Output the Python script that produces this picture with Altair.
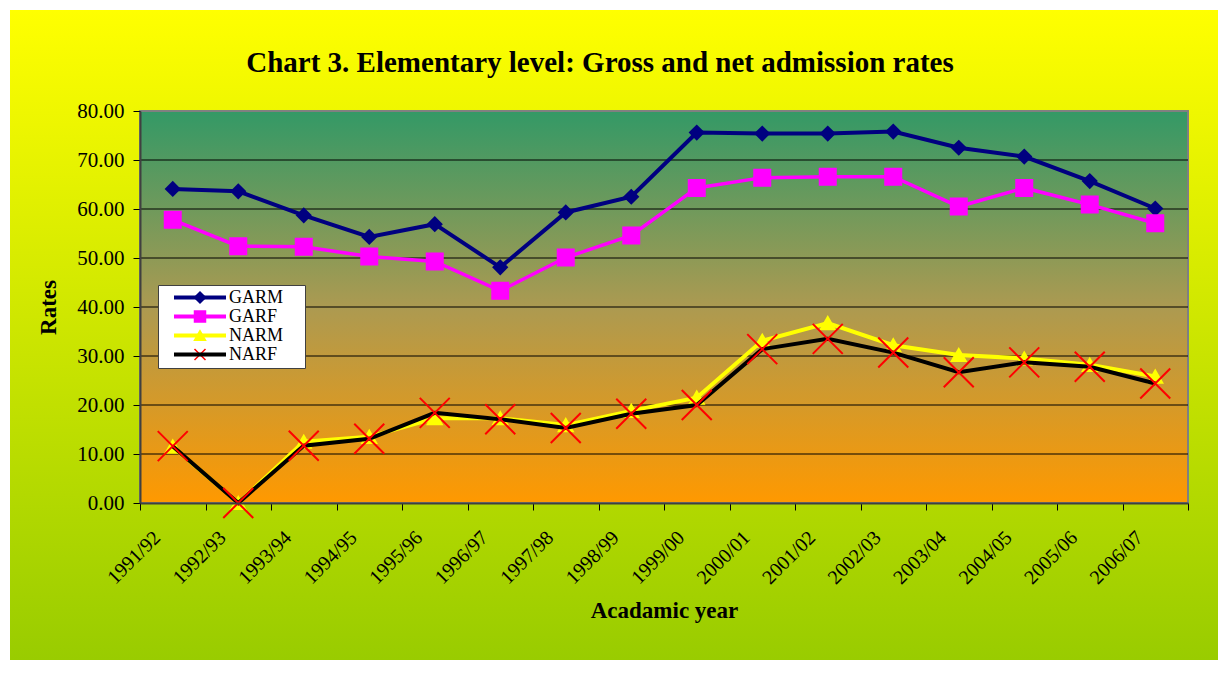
import altair as alt
import pandas as pd

# ---- data ----
years = ["1991/92", "1992/93", "1993/94", "1994/95", "1995/96", "1996/97",
         "1997/98", "1998/99", "1999/00", "2000/01", "2001/02", "2002/03",
         "2003/04", "2004/05", "2005/06", "2006/07"]
garm = [64.1, 63.6, 58.7, 54.3, 56.9, 48.1, 59.3, 62.5, 75.6, 75.4, 75.4, 75.8, 72.5, 70.7, 65.7, 60.1]
garf = [57.8, 52.4, 52.3, 50.3, 49.3, 43.3, 50.1, 54.6, 64.3, 66.4, 66.6, 66.6, 60.5, 64.3, 60.9, 57.1]
narm = [11.5, 0.0, 12.5, 13.5, 17.3, 17.3, 15.9, 18.8, 21.5, 33.1, 36.7, 32.2, 30.2, 29.5, 28.2, 25.8]
narf = [11.6, 0.0, 11.7, 13.1, 18.4, 17.1, 15.3, 18.2, 20.0, 31.4, 33.5, 30.7, 26.7, 28.7, 27.8, 24.4]

series_names = ["GARM", "GARF", "NARM", "NARF"]
series_values = [garm, garf, narm, narf]
line_colors = ["#000080", "#FF00FF", "#FFFF00", "#000000"]
line_widths = [4, 3.5, 4, 4]
marker_shapes = ["diamond", "square", "triangle-up", "M-1,-1L1,1M-1,1L1,-1"]
marker_fills = ["#000080", "#FF00FF", "#FFFF00", "transparent"]
marker_strokes = ["#000080", "#FF00FF", "#FFFF00", "#FF0000"]
marker_sizes = [180, 256, 196, 900]
y_ticks = [0, 10, 20, 30, 40, 50, 60, 70, 80]
grid_values = [10, 20, 30, 40, 50, 60, 70]

title_text = "Chart 3. Elementary level: Gross and net admission rates"
x_title = "Acadamic year"
y_title = "Rates"

FONT = "Liberation Serif"
W, H = 1048, 392

rows = []
for name, vals in zip(series_names, series_values):
    for yr, v in zip(years, vals):
        rows.append({"year": yr, "series": name, "mk": name + " ", "value": v})
df = pd.DataFrame(rows)
mk_names = [n + " " for n in series_names]

x_enc = alt.X(
    "year:O",
    sort=years,
    scale=alt.Scale(type="band", domain=years, paddingInner=0, paddingOuter=0),
    axis=alt.Axis(
        title=x_title, titleFont=FONT, titleFontSize=23, titleFontWeight="bold",
        titleColor="black", titlePadding=12,
        labelFont=FONT, labelFontSize=20, labelColor="black", labelAngle=-45,
        labelAlign="right", labelBaseline="top", labelPadding=17, labelOffset=-23,
        labelOverlap=False, labelFlush=False, labelBound=False,
        tickBand="extent", tickSize=7, tickColor="black", tickWidth=1,
        domainColor="#404040", domainWidth=2, grid=False, zindex=1,
    ),
)
y_axis = alt.Axis(
    values=y_ticks, format=".2f",
    title=y_title, titleFont=FONT, titleFontSize=23, titleFontWeight="bold",
    titleColor="black", titlePadding=16,
    labelFont=FONT, labelFontSize=21, labelColor="black", labelPadding=9,
    tickSize=7, tickColor="black", tickWidth=1,
    domainColor="#404040", domainWidth=2, grid=False, zindex=1,
)
y_scale = alt.Scale(domain=[0, 80], nice=False, zero=True)
y_enc = alt.Y("value:Q", scale=y_scale, axis=y_axis)

# line legend (drawn on top, transparent box, no labels of its own)
line_legend = alt.Legend(
    title=None, orient="none", legendX=18, legendY=174, padding=4,
    symbolType="stroke", symbolSize=2704, symbolStrokeWidth=4,
    symbolOffset=10, clipHeight=17, rowPadding=0,
    labelFont=FONT, labelFontSize=18, labelExpr="''", labelOffset=1, zindex=2,
)
# marker legend (drawn below, white box, visible labels)
marker_legend = alt.Legend(
    title=None, orient="none", legendX=18, legendY=174, padding=4,
    fillColor="white", strokeColor="#404040",
    symbolSize=121, symbolStrokeWidth=1.5, symbolOffset=29,
    clipHeight=17, rowPadding=0,
    labelFont=FONT, labelFontSize=18, labelColor="black", labelOffset=20,
    labelExpr="datum.label + '\u2800'", zindex=1,
)

color_enc = alt.Color("series:N", scale=alt.Scale(domain=series_names, range=line_colors),
                      legend=line_legend)
shape_enc = alt.Shape("mk:N", scale=alt.Scale(domain=mk_names, range=marker_shapes),
                      legend=marker_legend)
fill_enc = alt.Fill("mk:N", scale=alt.Scale(domain=mk_names, range=marker_fills),
                    legend=marker_legend)
stroke_enc = alt.Stroke("mk:N", scale=alt.Scale(domain=mk_names, range=marker_strokes),
                        legend=marker_legend)

one = alt.Data(values=[{"a": 1}])

outer_grad = alt.LinearGradient(
    gradient="linear", x1=0, y1=0, x2=0, y2=1,
    stops=[alt.GradientStop(color="#FFFF00", offset=0),
           alt.GradientStop(color="#99CC00", offset=1)],
)
plot_grad = alt.LinearGradient(
    gradient="linear", x1=0, y1=0, x2=0, y2=1,
    stops=[alt.GradientStop(color="#339966", offset=0),
           alt.GradientStop(color="#AC9A51", offset=0.5),
           alt.GradientStop(color="#FF9900", offset=1)],
)

outer_bg = alt.Chart(one).mark_rect(fill=outer_grad).encode(
    x=alt.value(-130), x2=alt.value(1078), y=alt.value(-101), y2=alt.value(549)
)
plot_bg = alt.Chart(one).mark_rect(fill=plot_grad, stroke="#808080", strokeWidth=2).encode(
    x=alt.value(0), x2=alt.value(W), y=alt.value(0), y2=alt.value(H)
)
title_mark = alt.Chart(one).mark_text(
    text=title_text, font=FONT, fontSize=29, fontWeight="bold", color="black",
    align="center", baseline="alphabetic",
).encode(x=alt.value(460), y=alt.value(-38.7))

grid = alt.Chart(pd.DataFrame({"value": grid_values})).mark_rule(color="black", strokeWidth=1).encode(
    y=y_enc, x=alt.value(0), x2=alt.value(W),
)

layers = [outer_bg, plot_bg, title_mark, grid]
base = alt.Chart(df)
for name, w, sz in zip(series_names, line_widths, marker_sizes):
    sub = base.transform_filter(alt.datum.series == name)
    layers.append(sub.mark_line(strokeWidth=w).encode(x=x_enc, y=y_enc, color=color_enc))
    layers.append(sub.mark_point(opacity=1, strokeWidth=2, size=sz).encode(
        x=x_enc, y=y_enc, shape=shape_enc, fill=fill_enc, stroke=stroke_enc))

chart = alt.layer(*layers).properties(
    width=W, height=H,
    autosize=alt.AutoSizeParams(type="none"),
    padding={"left": 132, "top": 103, "right": 30, "bottom": 157},
    background="white",
).configure_view(stroke=None).configure_legend(strokeWidth=1)

chart.save("out.html", embed_options={"renderer": "svg", "actions": False})
